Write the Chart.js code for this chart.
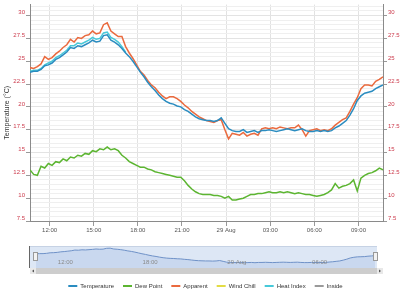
<!DOCTYPE html>
<html>
<head>
<meta charset="utf-8">
<script src="https://cdn.jsdelivr.net/npm/chart.js@4.4.0/dist/chart.umd.min.js"></script>
<style>
  body { margin: 0; background: #fff; }
  #chart { position: absolute; left: 0; top: 0; }
  #navigator { position: absolute; left: 0; top: 240px; }
</style>
</head>
<body>
<canvas id="chart" width="400" height="240"></canvas>
<canvas id="navigator" width="400" height="53"></canvas>
<script>
// 15 minute readings, 28 Aug 10:40 -> 29 Aug 10:40 (hours since 28 Aug 00:00)
var startHour = 10 + 40 / 60;
var stepHours = 0.25;

var temperature = [
  23.8, 23.9, 23.9, 24.1, 24.5, 24.6, 24.8, 25.2, 25.4, 25.7, 26.0, 26.5, 26.4, 26.7, 26.6, 26.8,
  27.0, 27.3, 27.1, 27.2, 27.8, 27.9, 27.3, 27.1, 26.8, 26.4, 25.9, 25.5, 25.0, 24.4, 23.8, 23.3,
  22.7, 22.2, 21.8, 21.3, 20.9, 20.6, 20.4, 20.3, 20.1, 20.0, 19.7, 19.5, 19.2, 18.9, 18.7, 18.6,
  18.5, 18.5, 18.4, 18.5, 18.8, 18.2, 17.6, 17.4, 17.3, 17.3, 17.5, 17.2, 17.3, 17.4, 17.2, 17.4,
  17.4, 17.5, 17.4, 17.3, 17.4, 17.5, 17.6, 17.5, 17.4, 17.5, 17.6, 17.4, 17.3, 17.3, 17.4, 17.3,
  17.4, 17.3, 17.4, 17.7, 17.9, 18.2, 18.5, 19.1, 19.8, 20.7, 21.2, 21.5, 21.6, 21.7, 22.0, 22.2,
  22.4
];
var dewPoint = [
  13.1, 12.6, 12.5, 13.5, 13.3, 13.8, 13.6, 14.0, 13.9, 14.3, 14.1, 14.5, 14.4, 14.7, 14.6, 14.9,
  14.8, 15.2, 15.1, 15.4, 15.3, 15.6, 15.3, 15.4, 15.2, 14.7, 14.4, 14.0, 13.8, 13.6, 13.4, 13.4,
  13.2, 13.1, 12.9, 12.8, 12.7, 12.6, 12.5, 12.4, 12.3, 12.3, 11.9, 11.4, 11.0, 10.7, 10.5, 10.4,
  10.4, 10.4, 10.3, 10.3, 10.2, 10.0, 10.2, 9.8, 9.8, 9.9, 10.0, 10.2, 10.4, 10.4, 10.5, 10.5,
  10.6, 10.7, 10.6, 10.6, 10.7, 10.6, 10.7, 10.6, 10.5, 10.6, 10.5, 10.4, 10.4, 10.3, 10.2, 10.3,
  10.4, 10.6, 10.9, 11.6, 11.1, 11.3, 11.4, 11.6, 12.0, 10.8, 12.2, 12.5, 12.7, 12.8, 13.0, 13.3,
  13.1
];
var apparent = [
  24.3, 24.2, 24.4, 24.7, 25.5, 25.2, 25.4, 25.8, 26.1, 26.5, 26.8, 27.4, 27.1, 27.6, 27.5, 27.8,
  27.9, 28.3, 28.0, 28.1, 29.0, 29.2, 28.3, 28.0, 27.7, 27.7, 26.6, 25.9, 25.3, 24.6, 23.9, 23.5,
  22.9, 22.4, 22.1, 21.6, 21.2, 20.9, 21.1, 21.1, 20.9, 20.6, 20.2, 19.9, 19.5, 19.2, 18.9, 18.7,
  18.5, 18.4, 18.3, 18.5, 18.6, 17.5, 16.5, 17.1, 17.0, 16.9, 17.2, 16.8, 17.0, 17.1, 16.9, 17.6,
  17.7, 17.6, 17.7, 17.6, 17.8, 17.7, 17.6, 17.7, 17.7, 18.0, 17.5, 16.8, 17.4, 17.5, 17.6, 17.4,
  17.5, 17.4, 17.6, 18.0, 18.3, 18.6, 18.8, 19.5, 20.3, 21.0, 22.0, 22.4, 22.4, 22.3, 22.8, 23.0,
  23.3
];
var windChill = [];
var heatIndex = [
  23.9, 24.0, 24.0, 24.2, 24.6, 24.8, 25.0, 25.4, 25.6, 25.9, 26.2, 26.7, 26.7, 27.0, 26.9, 27.1,
  27.3, 27.6, 27.4, 27.5, 28.1, 28.2, 27.6, 27.4, 27.1, 26.6, 26.0
];
var inside = [];

var seriesNames = ['Temperature', 'Dew Point', 'Apparent', 'Wind Chill', 'Heat Index', 'Inside'];
var seriesColors = ['#2a8cc0', '#5cb531', '#ea6a3e', '#e3dc45', '#47c9d9', '#9a9a9a'];

var xTicks = [12, 15, 18, 21, 24, 27, 30, 33];
var navTicks = [12, 18, 24, 30];
var yMin = 7.5, yMax = 31.2, yStep = 0.5, yLabelStep = 2.5;

function points(values) {
  return values.map(function (v, i) { return { x: startHour + i * stepHours, y: v }; });
}
function timeLabel(h) {
  if (h === 24) return '29 Aug';
  var hh = h % 24;
  return (hh < 10 ? '0' : '') + hh + ':00';
}
function isMajor(v) {
  return Math.abs(v / yLabelStep - Math.round(v / yLabelStep)) < 1e-6;
}

Chart.defaults.font.family = '"Liberation Sans", Arial, sans-serif';
Chart.defaults.font.size = 6;

var yTicks = {
  stepSize: yStep,
  includeBounds: false,
  autoSkip: false,
  color: '#cc3b4c',
  padding: 1,
  labelOffset: -3,
  callback: function (v) { return isMajor(v) ? String(v) : ''; }
};

var lineStyle = { pointRadius: 0, borderWidth: 1.5, fill: false, tension: 0 };

new Chart(document.getElementById('chart'), {
  type: 'line',
  data: {
    datasets: [
      Object.assign({ label: seriesNames[0], data: points(temperature), borderColor: seriesColors[0], order: 0 }, lineStyle),
      Object.assign({ label: seriesNames[1], data: points(dewPoint), borderColor: seriesColors[1], order: 2 }, lineStyle),
      Object.assign({ label: seriesNames[2], data: points(apparent), borderColor: seriesColors[2], order: 1 }, lineStyle),
      Object.assign({ label: seriesNames[3], data: points(windChill), borderColor: seriesColors[3], order: 4 }, lineStyle),
      Object.assign({ label: seriesNames[4], data: points(heatIndex), borderColor: seriesColors[4], order: 3 }, lineStyle),
      Object.assign({ label: seriesNames[5], data: points(inside), borderColor: seriesColors[5], order: 5 }, lineStyle)
    ]
  },
  options: {
    responsive: false,
    animation: false,
    devicePixelRatio: 1,
    layout: { padding: 0 },
    plugins: { legend: { display: false }, tooltip: { enabled: false } },
    scales: {
      x: {
        type: 'linear',
        min: startHour,
        max: startHour + 24,
        afterBuildTicks: function (scale) { scale.ticks = xTicks.map(function (v) { return { value: v }; }); },
        afterFit: function (scale) { scale.height = 19; },
        ticks: { color: '#555', maxRotation: 0, padding: 1, callback: function (v) { return timeLabel(v); } },
        grid: { color: '#e2e2e2', tickLength: 5, tickColor: '#999' },
        border: { color: '#8a8a8a' }
      },
      y: {
        position: 'left',
        min: yMin,
        max: yMax,
        afterFit: function (scale) { scale.width = 30; },
        ticks: yTicks,
        title: { display: true, text: 'Temperature (°C)', color: '#333', font: { size: 7 }, padding: { top: 3, bottom: 0 } },
        grid: {
          color: function (c) { return isMajor(c.tick.value) ? '#e3e3e3' : '#efefef'; },
          tickLength: 4,
          tickColor: function (c) { return isMajor(c.tick.value) ? '#999' : 'rgba(0,0,0,0)'; }
        },
        border: { color: '#8a8a8a' }
      },
      y2: {
        position: 'right',
        min: yMin,
        max: yMax,
        afterFit: function (scale) { scale.width = 17; },
        ticks: yTicks,
        grid: {
          drawOnChartArea: false,
          tickLength: 4,
          tickColor: function (c) { return isMajor(c.tick.value) ? '#999' : 'rgba(0,0,0,0)'; }
        },
        border: { color: '#8a8a8a' }
      }
    }
  }
});

// navigator strip with scrollbar and legend
var navDecor = {
  id: 'navDecor',
  beforeDatasetsDraw: function (chart) {
    var ctx = chart.ctx, a = chart.chartArea;
    ctx.save();
    ctx.fillStyle = '#dde7f5';
    ctx.fillRect(30, a.top, 347, a.bottom - a.top);
    ctx.restore();
  },
  afterDatasetsDraw: function (chart) {
    var ctx = chart.ctx, a = chart.chartArea, xs = chart.scales.x;
    ctx.save();
    // scrollbar
    ctx.fillStyle = '#cdcdcd';
    ctx.fillRect(30, a.bottom - 6, 353, 6);
    ctx.fillStyle = '#e8e8e8';
    ctx.fillRect(30, a.bottom - 6, 6, 6);
    ctx.fillRect(377, a.bottom - 6, 6, 6);
    ctx.fillStyle = '#555';
    ctx.beginPath(); ctx.moveTo(34, a.bottom - 4.5); ctx.lineTo(34, a.bottom - 1.5); ctx.lineTo(32, a.bottom - 3); ctx.fill();
    ctx.beginPath(); ctx.moveTo(379, a.bottom - 4.5); ctx.lineTo(379, a.bottom - 1.5); ctx.lineTo(381, a.bottom - 3); ctx.fill();
    // outline and handles
    ctx.strokeStyle = '#666';
    ctx.lineWidth = 1;
    ctx.beginPath(); ctx.moveTo(29.5, a.top); ctx.lineTo(29.5, a.bottom - 6); ctx.stroke();
    ctx.strokeStyle = '#c6d2e4';
    ctx.beginPath(); ctx.moveTo(30, a.top + 0.5); ctx.lineTo(377, a.top + 0.5); ctx.stroke();
    ctx.fillStyle = '#f2f2f2';
    ctx.strokeStyle = '#999';
    ctx.fillRect(33.5, a.top + 6.5, 4, 8); ctx.strokeRect(33.5, a.top + 6.5, 4, 8);
    ctx.fillRect(373.5, a.top + 6.5, 4, 8); ctx.strokeRect(373.5, a.top + 6.5, 4, 8);
    // time labels inside the strip
    ctx.fillStyle = '#8a8a8a';
    ctx.font = '6px "Liberation Sans", Arial, sans-serif';
    ctx.textAlign = 'left';
    ctx.textBaseline = 'middle';
    navTicks.forEach(function (v) { ctx.fillText(timeLabel(v), xs.getPixelForValue(v) + 3, a.bottom - 12); });
    ctx.restore();
  }
};

new Chart(document.getElementById('navigator'), {
  type: 'line',
  data: {
    datasets: [{
      data: points(temperature),
      borderColor: '#6f92c8',
      borderWidth: 1,
      backgroundColor: 'rgba(110,150,215,0.18)',
      fill: 'start',
      pointRadius: 0,
      tension: 0
    }]
  },
  options: {
    responsive: false,
    animation: false,
    devicePixelRatio: 1,
    layout: { padding: { left: 36, right: 25, top: 6, bottom: 0 } },
    scales: {
      x: { type: 'linear', display: false, min: startHour, max: startHour + 24 },
      y: { display: false, min: 8.9, max: 29.5 }
    },
    plugins: {
      tooltip: { enabled: false },
      legend: {
        position: 'bottom',
        maxHeight: 19,
        labels: {
          boxWidth: 9,
          boxHeight: 2,
          padding: 9,
          color: '#333',
          font: { size: 6 },
          generateLabels: function () {
            return seriesNames.map(function (name, i) {
              return { text: name, fillStyle: seriesColors[i], strokeStyle: seriesColors[i], lineWidth: 0, hidden: false, fontColor: '#333', datasetIndex: i };
            });
          }
        },
        onClick: function () {}
      }
    }
  },
  plugins: [navDecor]
});
</script>
</body>
</html>
